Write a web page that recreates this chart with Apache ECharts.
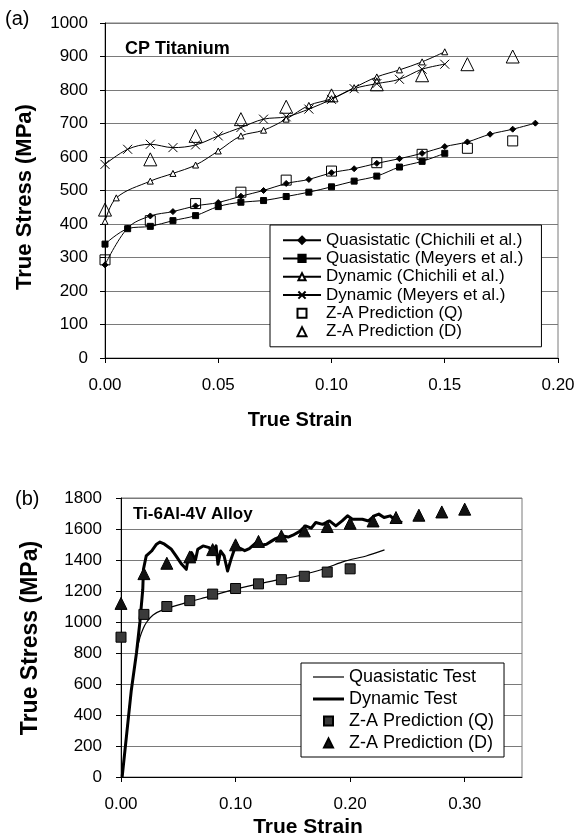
<!DOCTYPE html>
<html><head><meta charset="utf-8">
<script src="https://cdn.jsdelivr.net/npm/echarts@6/dist/echarts.min.js"></script>
<style>html,body{margin:0;padding:0;background:#fff}#c{width:581px;height:839px}</style>
</head><body><div id="c"></div>
<script>
// ---------- (a) CP Titanium ----------
const strainQC = [0,0.01,0.02,0.03,0.04,0.05,0.06,0.07,0.08,0.09,0.10,0.11,0.12,0.13,0.14,0.15,0.16,0.17,0.18,0.19];
const stressQC = [278,388,424,437,454,464,483,500,521,533,553,565,581,595,611,631,645,668,683,701];
const strainQM = [0,0.01,0.02,0.03,0.04,0.05,0.06,0.07,0.08,0.09,0.10,0.11,0.12,0.13,0.14,0.15];
const stressQM = [340,386,393,410,425,452,465,470,482,495,511,528,543,570,587,611];
const strainDC = [0,0.005,0.02,0.03,0.04,0.05,0.06,0.07,0.08,0.09,0.10,0.11,0.12,0.13,0.14,0.15];
const stressDC = [408,478,528,551,576,618,663,680,713,754,774,807,839,860,884,914];
const strainDM = [0,0.01,0.02,0.03,0.04,0.05,0.06,0.07,0.08,0.09,0.10,0.11,0.12,0.13,0.14,0.15];
const stressDM = [578,623,638,628,636,663,688,713,720,743,772,804,819,832,862,877];
const strainZAQa = [0,0.02,0.04,0.06,0.08,0.10,0.12,0.14,0.16,0.18];
const stressZAQa = [293,410,461,495,531,558,583,608,626,648];
const strainZADa = [0,0.02,0.04,0.06,0.08,0.10,0.12,0.14,0.16,0.18];
const stressZADa = [443,593,663,713,750,784,817,844,877,900];
const xTicksA = [0,0.05,0.10,0.15,0.20];
const yTicksA = [0,100,200,300,400,500,600,700,800,900,1000];

// ---------- (b) Ti-6Al-4V ----------
const strainQT = [0.001,0.0045,0.008,0.0136,0.0165,0.0195,0.0225,0.028,0.037,0.057,0.077,0.099,0.118,0.138,0.156,0.176,0.196,0.214,0.230];
const stressQT = [0,250,500,800,900,960,1000,1045,1080,1125,1165,1210,1243,1273,1300,1340,1394,1426,1465];
const strainDT = [0.001,0.005,0.009,0.0135,0.0165,0.019,0.0196,0.022,0.0267,0.031,0.034,0.038,0.044,0.048,0.053,0.057,0.0585,0.0615,0.065,0.067,0.0716,0.077,0.080,0.083,0.0846,0.087,0.090,0.093,0.096,0.099,0.104,0.108,0.112,0.118,0.122,0.127,0.131,0.135,0.141,0.146,0.150,0.156,0.161,0.166,0.170,0.176,0.182,0.1875,0.193,0.1977,0.202,0.2107,0.216,0.221,0.225,0.2296,0.235,0.240,0.2455];
const stressDT = [0,280,560,800,1000,1210,1340,1426,1458,1502,1516,1502,1469,1426,1372,1340,1404,1448,1400,1469,1491,1480,1437,1491,1372,1458,1426,1329,1404,1469,1475,1460,1474,1512,1495,1502,1520,1538,1555,1548,1560,1585,1620,1605,1642,1630,1652,1620,1652,1685,1663,1663,1652,1685,1696,1674,1685,1652,1642];
const strainZAQb = [0,0.02,0.04,0.06,0.08,0.10,0.12,0.14,0.16,0.18,0.20];
const stressZAQb = [902,1049,1100,1138,1180,1216,1246,1273,1295,1322,1343];
const strainZADb = [0,0.02,0.04,0.06,0.08,0.10,0.12,0.14,0.16,0.18,0.20,0.22,0.24,0.26,0.28,0.30];
const stressZADb = [1120,1312,1379,1420,1467,1498,1520,1555,1588,1616,1637,1652,1674,1689,1710,1728];
const xTicksB = [0,0.10,0.20,0.30];
const yTicksB = [0,200,400,600,800,1000,1200,1400,1600,1800];

const F = '"Liberation Sans", Arial, sans-serif';
const pairs = (xs, ys) => xs.map((x, i) => [x, ys[i]]);
const crossPath = 'path://M0,0L10,10M10,0L0,10';
const sqIcon = 'path://M0,0L10,0L10,10L0,10Z';
const triIcon = 'path://M5,0L10,10L0,10Z';

const chart = echarts.init(document.getElementById('c'), null, {renderer: 'canvas'});

function xAxisCfg(idx, ticks, maxV) {
  return {
    gridIndex: idx, type: 'value', min: ticks[0], max: maxV, interval: ticks[1] - ticks[0],
    axisLine: {show: true, onZero: false, lineStyle: {color: '#000', width: 1}},
    axisTick: {show: true, length: 5, lineStyle: {color: '#000'}},
    splitLine: {show: false},
    axisLabel: {fontSize: 17, color: '#000', fontFamily: F, margin: 19, showMaxLabel: maxV === ticks[ticks.length - 1],
      formatter: v => (v > ticks[ticks.length - 1] + 1e-9 ? '' : v.toFixed(2))}
  };
}
function yAxisCfg(idx, ticks, margin) {
  return {
    gridIndex: idx, type: 'value', min: ticks[0], max: ticks[ticks.length - 1], interval: ticks[1] - ticks[0],
    axisLine: {show: true, onZero: false, lineStyle: {color: '#000', width: 1}},
    axisTick: {show: true, length: 5, lineStyle: {color: '#000'}},
    splitLine: {show: true, lineStyle: {color: '#7a7a7a', width: 1}},
    axisLabel: {fontSize: 17, color: '#000', fontFamily: F, margin: margin, formatter: v => String(Math.round(v))}
  };
}
function lineSeries(name, xs, ys, symbol, size, fill) {
  return {
    name, type: 'line', xAxisIndex: 0, yAxisIndex: 0, data: pairs(xs, ys),
    smooth: 0.35, symbol, symbolSize: size, showAllSymbol: true,
    lineStyle: {color: '#000', width: 1},
    itemStyle: {color: fill, borderColor: '#000', borderWidth: 1},
    animation: false, z: 3
  };
}
function scatterSeries(name, xi, xs, ys, symbol, size, fill, bw) {
  return {
    name, type: 'scatter', xAxisIndex: xi, yAxisIndex: xi, data: pairs(xs, ys),
    symbol, symbolSize: size,
    itemStyle: {color: fill, borderColor: '#000', borderWidth: bw, opacity: 1},
    animation: false, z: 4, clip: false
  };
}

const option = {
  backgroundColor: '#fff',
  animation: false,
  grid: [
    {left: 105, right: 23, top: 23, bottom: 481, show: true, borderColor: '#7a7a7a', borderWidth: 1, backgroundColor: 'transparent'},
    {left: 121, right: 59, top: 498, bottom: 62, show: true, borderColor: '#7a7a7a', borderWidth: 1, backgroundColor: 'transparent'}
  ],
  xAxis: [xAxisCfg(0, xTicksA, 0.20), xAxisCfg(1, xTicksB, 0.35)],
  yAxis: [yAxisCfg(0, yTicksA, 17), yAxisCfg(1, yTicksB, 19)],
  legend: [
    {
      left: 270, top: 225, orient: 'vertical', selectedMode: false, symbolKeepAspect: true,
      data: ['Quasistatic (Chichili et al.)', 'Quasistatic (Meyers et al.)', 'Dynamic (Chichili et al.)',
             'Dynamic (Meyers et al.)',
             {name: 'Z-A Prediction (Q)', icon: sqIcon},
             {name: 'Z-A Prediction (D)', icon: triIcon}],
      itemWidth: 38, itemHeight: 9, itemGap: 0, padding: [6, 18, 6, 12],
      borderColor: '#000', borderWidth: 1, backgroundColor: '#fff',
      textStyle: {fontSize: 17, fontFamily: F, color: '#000', lineHeight: 18.3}
    },
    {
      left: 301, top: 663, orient: 'vertical', selectedMode: false, symbolKeepAspect: true,
      data: [{name: 'Quasistatic Test', icon: 'path://M0,0L31,0L31,1.2L0,1.2Z'},
             {name: 'Dynamic Test', icon: 'path://M0,0L31,0L31,3L0,3Z'},
             {name: 'Z-A Prediction (Q) [b]', icon: sqIcon},
             {name: 'Z-A Prediction (D) [b]', icon: triIcon}],
      formatter: n => n.replace(' [b]', ''),
      itemWidth: 31, itemHeight: 9, itemGap: 0, padding: [3, 10, 3, 12],
      borderColor: '#000', borderWidth: 1, backgroundColor: '#fff',
      textStyle: {fontSize: 18, fontFamily: F, color: '#000', lineHeight: 22}
    }
  ],
  graphic: [
    {type: 'text', left: 5, top: 9, style: {text: '(a)', font: '20px ' + F, fill: '#000'}},
    {type: 'text', left: 125, top: 40, style: {text: 'CP Titanium', font: 'bold 18px ' + F, fill: '#000'}},
    {type: 'text', x: 300, y: 420, style: {text: 'True Strain', font: 'bold 20px ' + F, fill: '#000', align: 'center', verticalAlign: 'middle'}},
    {type: 'text', x: 25, y: 197, rotation: Math.PI / 2, style: {text: 'True Stress (MPa)', font: 'bold 22px ' + F, fill: '#000', align: 'center', verticalAlign: 'middle'}},
    {type: 'text', left: 15, top: 489, style: {text: '(b)', font: '20px ' + F, fill: '#000'}},
    {type: 'text', left: 133, top: 506, style: {text: 'Ti-6Al-4V Alloy', font: 'bold 17px ' + F, fill: '#000'}},
    {type: 'text', x: 308, y: 827, style: {text: 'True Strain', font: 'bold 21px ' + F, fill: '#000', align: 'center', verticalAlign: 'middle'}},
    {type: 'text', x: 31, y: 638, rotation: Math.PI / 2, style: {text: 'True Stress (MPa)', font: 'bold 23px ' + F, fill: '#000', align: 'center', verticalAlign: 'middle'}}
  ],
  series: [
    lineSeries('Quasistatic (Chichili et al.)', strainQC, stressQC, 'diamond', 6, '#000'),
    lineSeries('Quasistatic (Meyers et al.)', strainQM, stressQM, 'rect', 6, '#000'),
    lineSeries('Dynamic (Chichili et al.)', strainDC, stressDC, 'triangle', 6, '#fff'),
    lineSeries('Dynamic (Meyers et al.)', strainDM, stressDM, crossPath, 9, '#000'),
    scatterSeries('Z-A Prediction (Q)', 0, strainZAQa, stressZAQa, 'rect', 10, 'rgba(255,255,255,0)', 1),
    scatterSeries('Z-A Prediction (D)', 0, strainZADa, stressZADa, 'triangle', 13, 'rgba(255,255,255,0)', 1),
    {
      name: 'Quasistatic Test', type: 'line', xAxisIndex: 1, yAxisIndex: 1, data: pairs(strainQT, stressQT),
      smooth: 0.3, symbol: 'none', lineStyle: {color: '#000', width: 1.2}, itemStyle: {color: '#000'}, z: 3
    },
    {
      name: 'Dynamic Test', type: 'line', xAxisIndex: 1, yAxisIndex: 1, data: pairs(strainDT, stressDT),
      smooth: false, symbol: 'none', lineStyle: {color: '#000', width: 3, join: 'round'}, itemStyle: {color: '#000'}, z: 3
    },
    scatterSeries('Z-A Prediction (Q) [b]', 1, strainZAQb, stressZAQb, 'rect', 10, '#3a3a3a', 1),
    scatterSeries('Z-A Prediction (D) [b]', 1, strainZADb, stressZADb, 'triangle', 12, '#111', 1)
  ]
};
chart.setOption(option);
</script>
</body></html>
